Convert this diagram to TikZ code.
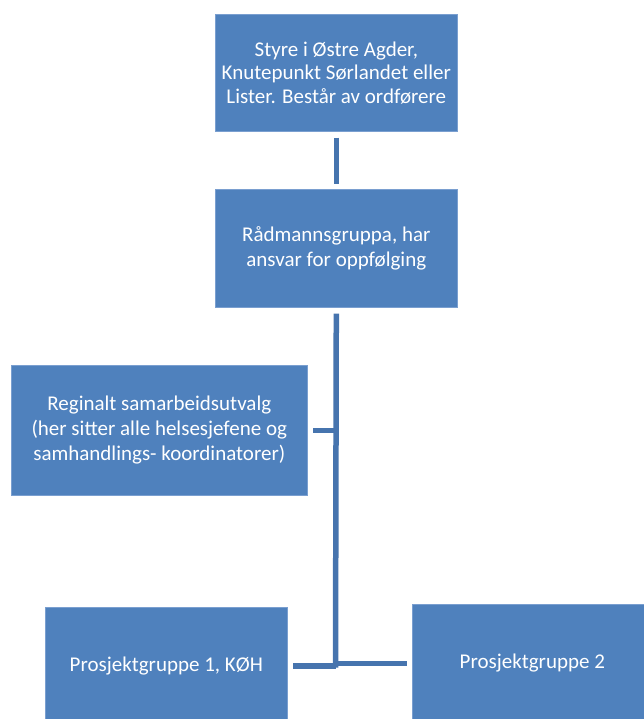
\documentclass[tikz,border=0pt]{standalone}
\usepackage{fontspec}
\setmainfont{Carlito}
\definecolor{boxblue}{HTML}{4F81BD}
\definecolor{boxedge}{HTML}{7A9FD0}
\definecolor{linkblue}{HTML}{4674AE}
\begin{document}
\begin{tikzpicture}[x=1pt,y=-1pt,
  orgbox/.style={rectangle, fill=boxblue, draw=boxedge, line width=0.6pt,
    text=white, align=center, anchor=north west, inner sep=0pt,
    font=\fontsize{21}{25}\selectfont},
  tighttext/.style={font=\fontsize{21}{23.5}\selectfont},
  link/.style={draw=linkblue, line width=5.5pt, line cap=butt}]
  \useasboundingbox (0,0) rectangle (644,719);
  \clip (0,0) rectangle (644,719);

  % boxes
  \node[orgbox, tighttext, minimum width=242pt, minimum height=117pt] (styre) at (215,14)
    {Styre i Østre Agder,\\Knutepunkt Sørlandet eller\\Lister. Består av ordførere};
  \node[orgbox, minimum width=242pt, minimum height=118pt] (rad) at (215,189)
    {Rådmannsgruppa, har\\ansvar for oppfølging};
  \node[orgbox, minimum width=296pt, minimum height=130pt] (reg) at (11,365)
    {Reginalt samarbeidsutvalg\\(her sitter alle helsesjefene og\\samhandlings- koordinatorer)};
  \node[orgbox, minimum width=242pt, minimum height=117pt] (pg1) at (45,607)
    {Prosjektgruppe 1, KØH};
  \node[orgbox, minimum width=240pt, minimum height=117pt] (pg2) at (412,604)
    {Prosjektgruppe 2};

  % junction points on the vertical trunk
  \coordinate (jreg) at (335.5,430.5);
  \coordinate (jpg1) at (335.5,666);
  \coordinate (jpg2) at (335.5,663.5);
  \coordinate (trunkend) at (335.5,667.5);

  % connectors
  \draw[link, shorten <=6pt, shorten >=5pt] (styre.south) -- (rad.north);
  \draw[link, shorten <=6pt] (rad.south) -- (trunkend);
  \draw[link, shorten >=5pt] (jreg) -- (reg.east |- jreg);
  \draw[link, shorten >=5pt] (jpg1) -- (pg1.east |- jpg1);
  \draw[link, shorten >=5pt] (jpg2) -- (pg2.west |- jpg2);
\end{tikzpicture}
\end{document}
